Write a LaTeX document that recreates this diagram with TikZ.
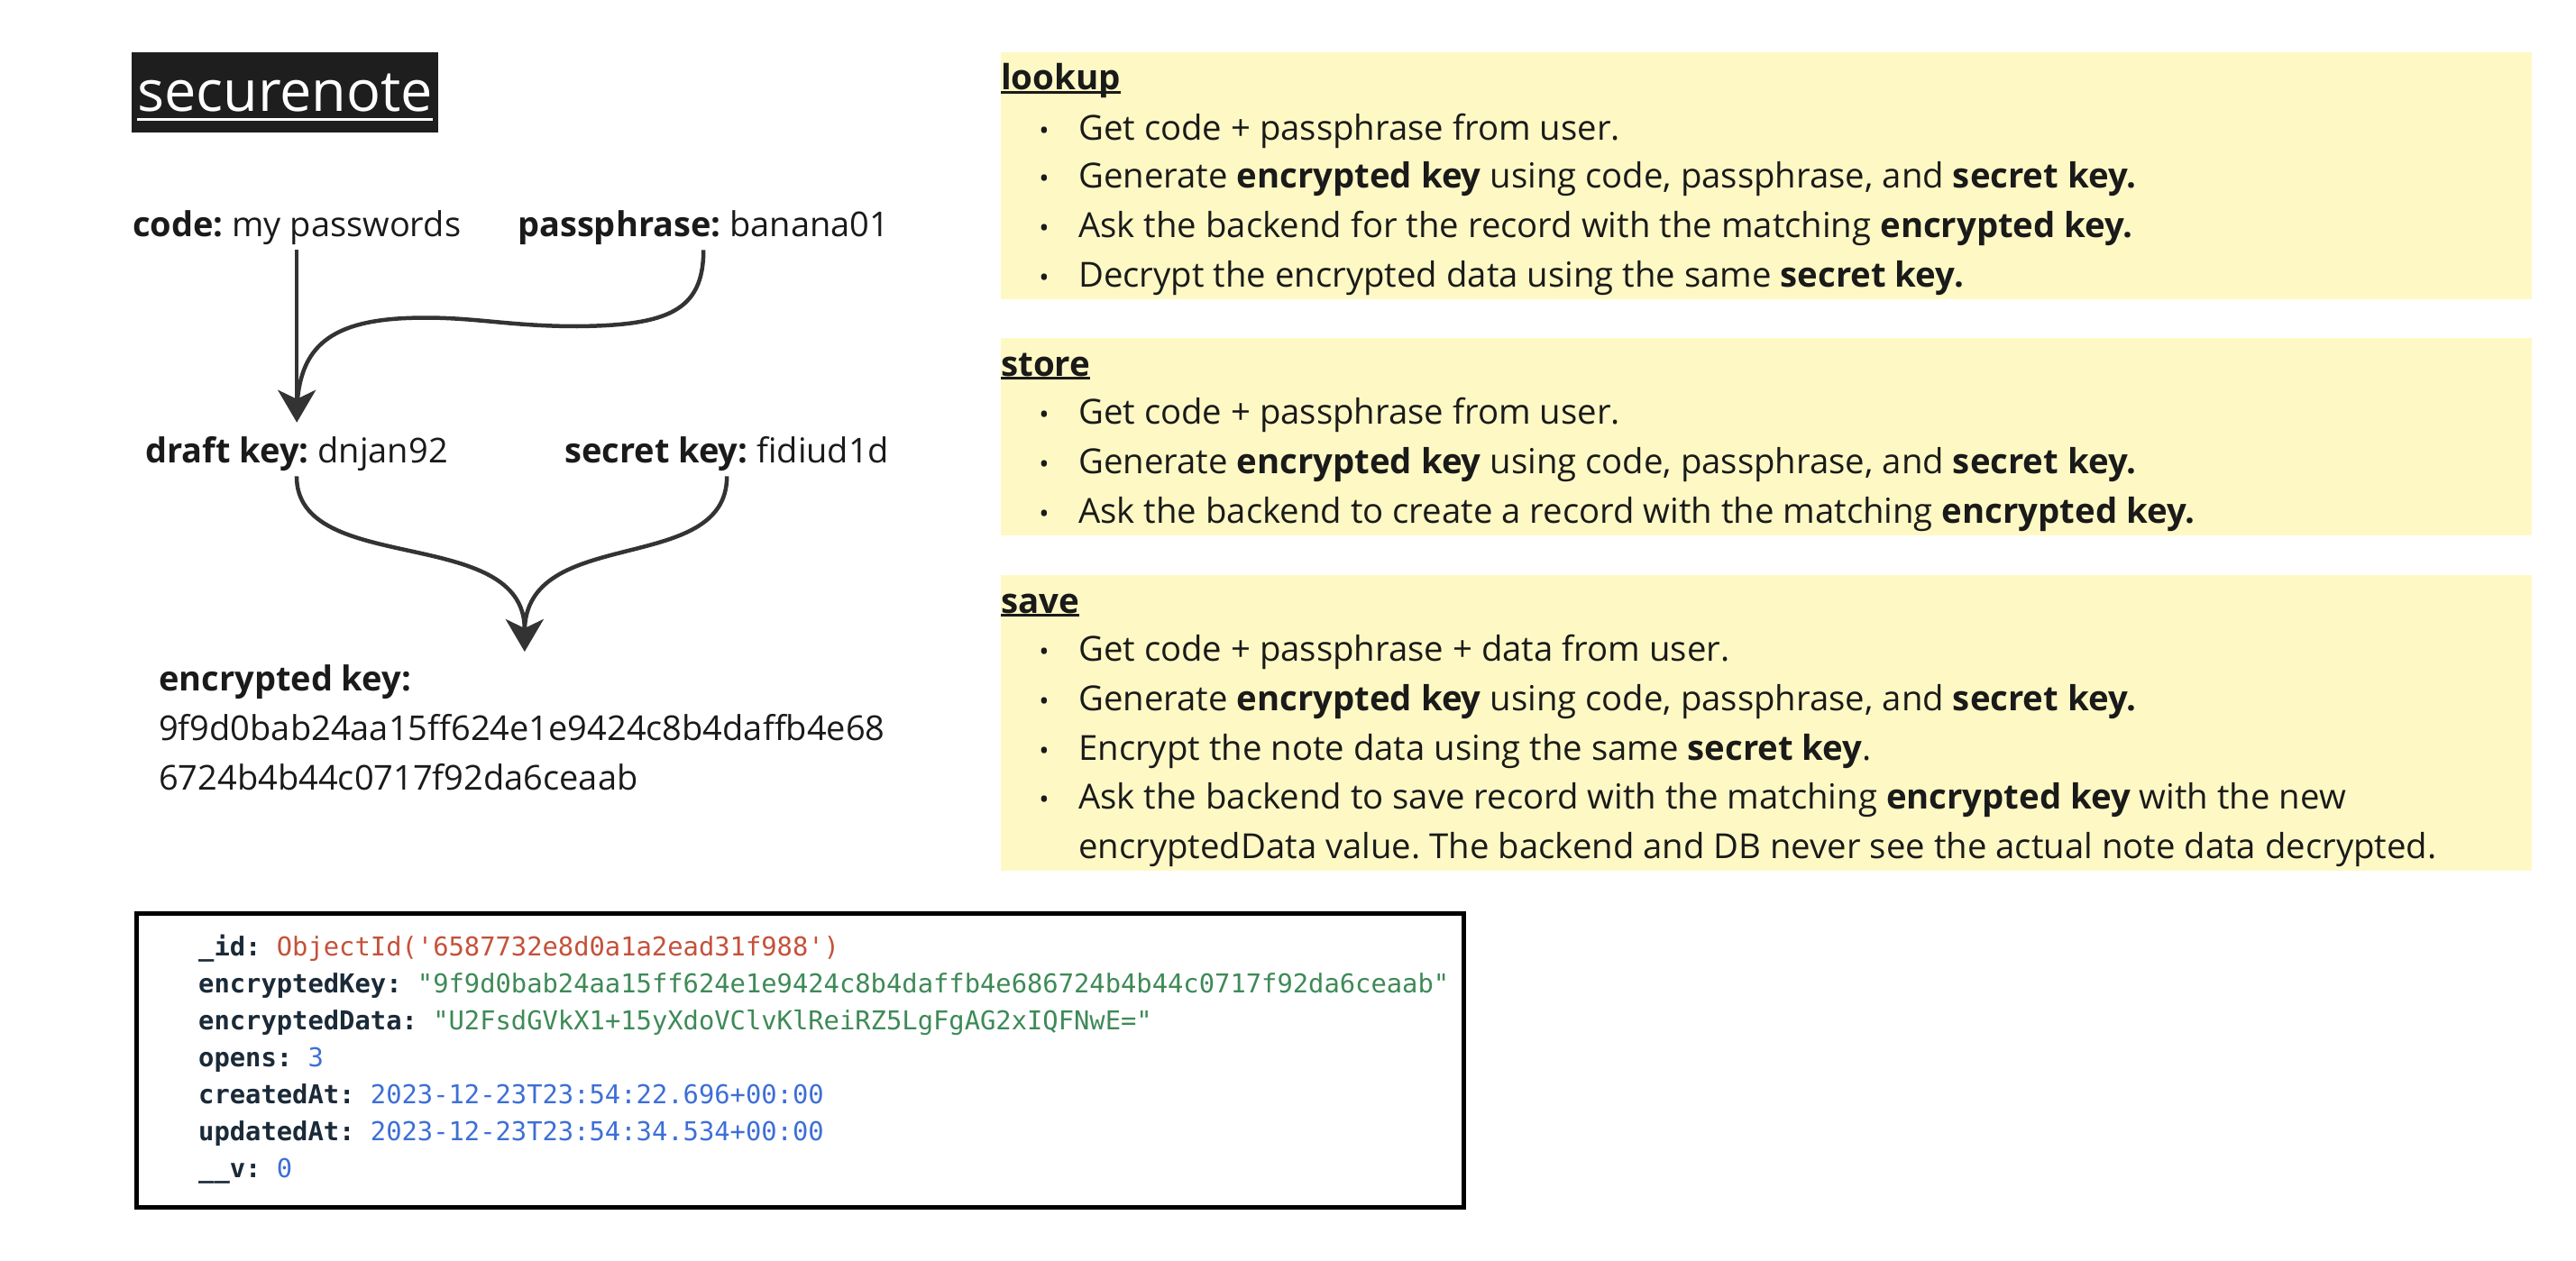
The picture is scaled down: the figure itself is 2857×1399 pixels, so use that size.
\documentclass[tikz,border=0pt]{standalone}
\usepackage{fontspec}
\setmainfont{Open Sans}
\setmonofont{DejaVu Sans Mono}
\usetikzlibrary{arrows.meta}
\definecolor{ink}{HTML}{1A1A1A}
\definecolor{arrowc}{HTML}{333333}
\definecolor{paper}{HTML}{FEF9C4}
\definecolor{titlebg}{HTML}{1E1E1E}
\definecolor{keyc}{HTML}{1B2A38}
\definecolor{redc}{HTML}{C5513A}
\definecolor{greenc}{HTML}{3E8A57}
\definecolor{bluec}{HTML}{3D6FD6}
\newcommand\ulx[3]{\setbox0\hbox{#3}\rlap{\rule[-#1]{\wd0}{#2}}\box0}
\frenchspacing
\tikzset{
  lbl/.style={anchor=base west, inner sep=0pt, text=ink, font=\fontsize{38}{55}\selectfont},
  body/.style={anchor=base west, inner sep=0pt, text=ink, font=\fontsize{38.3}{44}\selectfont},
  head/.style={anchor=base west, inner sep=0pt, text=ink, font=\fontsize{38.5}{44}\selectfont\bfseries},
  bul/.style={anchor=base, inner sep=0pt, text=ink, font=\fontsize{30}{36}\selectfont},
  panel/.style={fill=paper, draw=none, anchor=north west, inner sep=0pt, minimum width=1698pt},
  codeln/.style={anchor=base west, inner sep=0pt, font=\fontsize{28.8}{34}\ttfamily},
  flow/.style={draw=arrowc, line width=4.5pt},
  tip/.style={-{Stealth[length=36pt,width=42pt,inset=10pt]}},
}
\newcommand\kk[1]{\textcolor{keyc}{\bfseries #1}}
\begin{document}
\begin{tikzpicture}[x=1pt,y=-1pt]
\useasboundingbox (0,0) rectangle (2857,1399);
\fill[white] (0,0) rectangle (2857,1399);

% title
\node[fill=titlebg, text=white, anchor=north west, inner sep=0pt, minimum width=340pt,
      text height=65pt, text depth=24pt, font=\fontsize{63}{66}\selectfont] (title) at (146,58)
  {\ulx{11pt}{3pt}{securenote}};

% left flow labels
\node[lbl] (code) at (147,262) {\textbf{code:} my passwords};
\node[lbl] (pass) at (574,262) {\textbf{passphrase:} banana01};
\node[lbl] (draft) at (161,513) {\textbf{draft key:} dnjan92};
\node[lbl] (secret) at (626,513) {\textbf{secret key:} fidiud1d};
\node[lbl, anchor=north west, align=left] (enc) at (176,737)
  {\textbf{encrypted key:}\\9f9d0bab24aa15ff624e1e9424c8b4daffb4e68\\6724b4b44c0717f92da6ceaab};

% connectors
\coordinate (j1) at ([yshift=30pt]code.south |- draft.north);
\draw[flow, tip] ([yshift=-6pt]code.south) -- ([yshift=15pt]code.south |- draft.north);
\draw[flow] ([yshift=-6pt]pass.south) .. controls +(0,68) and (740,361) .. (640,362)
  .. controls (560,362) and (520,350) .. (450,353)
  .. controls (360,357) and (332,390) .. (j1);
\draw[flow, tip] ([yshift=-6pt]draft.south) .. controls +(0,112) and +(0,-142) .. ([xshift=3pt,yshift=14pt]enc.north);
\draw[flow] ([yshift=-6pt]secret.south) .. controls +(0,112) and +(0,-120) .. ([xshift=3pt,yshift=36pt]enc.north);

% panels
\node[panel, minimum height=274pt] (lookup) at (1110,58) {};
\node[panel, minimum height=219pt] (store) at (1110,375) {};
\node[panel, minimum height=328pt] (save) at (1110,638) {};

\node[head] (lookupT) at (1110,100) {\ulx{4pt}{3pt}{lookup}};
\node[bul] at (1158,156) {•};
\node[body] (l1) at (1196,156) {Get code + passphrase from user.};
\node[bul] at (1158,209) {•};
\node[body] (l2) at (1196,209) {Generate \textbf{encrypted key} using code, passphrase, and \textbf{secret key.}};
\node[bul] at (1158,263) {•};
\node[body] (l3) at (1196,263) {Ask the backend for the record with the matching \textbf{encrypted key.}};
\node[bul] at (1158,318) {•};
\node[body] (l4) at (1196,318) {Decrypt the encrypted data using the same \textbf{secret key.}};

\node[head] (storeT) at (1110,417) {\ulx{4pt}{3pt}{store}};
\node[bul] at (1158,470) {•};
\node[body] (s1) at (1196,470) {Get code + passphrase from user.};
\node[bul] at (1158,525) {•};
\node[body] (s2) at (1196,525) {Generate \textbf{encrypted key} using code, passphrase, and \textbf{secret key.}};
\node[bul] at (1158,580) {•};
\node[body] (s3) at (1196,580) {Ask the backend to create a record with the matching \textbf{encrypted key.}};

\node[head] (saveT) at (1110,680) {\ulx{4pt}{3pt}{save}};
\node[bul] at (1158,733) {•};
\node[body] (v1) at (1196,733) {Get code + passphrase + data from user.};
\node[bul] at (1158,788) {•};
\node[body] (v2) at (1196,788) {Generate \textbf{encrypted key} using code, passphrase, and \textbf{secret key.}};
\node[bul] at (1158,843) {•};
\node[body] (v3) at (1196,843) {Encrypt the note data using the same \textbf{secret key}.};
\node[bul] at (1158,897) {•};
\node[body] (v4) at (1196,897) {Ask the backend to save record with the matching \textbf{encrypted key} with the new};
\node[body] (v5) at (1196,952) {encryptedData value. The backend and DB never see the actual note data decrypted.};

% code box
\node[draw=black, line width=5pt, anchor=north west, inner sep=0pt, minimum width=1472pt, minimum height=326pt] (codebox) at (148.5,1010.5) {};
\node[codeln] (c1) at (220,1060) {\kk{\_id:} \textcolor{redc}{ObjectId('6587732e8d0a1a2ead31f988')}};
\node[codeln] (c2) at (220,1101) {\kk{encryptedKey:} \textcolor{greenc}{"9f9d0bab24aa15ff624e1e9424c8b4daffb4e686724b4b44c0717f92da6ceaab"}};
\node[codeln] (c3) at (220,1142) {\kk{encryptedData:} \textcolor{greenc}{"U2FsdGVkX1+15yXdoVClvKlReiRZ5LgFgAG2xIQFNwE="}};
\node[codeln] (c4) at (220,1183) {\kk{opens:} \textcolor{bluec}{3}};
\node[codeln] (c5) at (220,1224) {\kk{createdAt:} \textcolor{bluec}{2023-12-23T23:54:22.696+00:00}};
\node[codeln] (c6) at (220,1265) {\kk{updatedAt:} \textcolor{bluec}{2023-12-23T23:54:34.534+00:00}};
\node[codeln] (c7) at (220,1306) {\kk{\_\_v:} \textcolor{bluec}{0}};
\end{tikzpicture}
\end{document}
